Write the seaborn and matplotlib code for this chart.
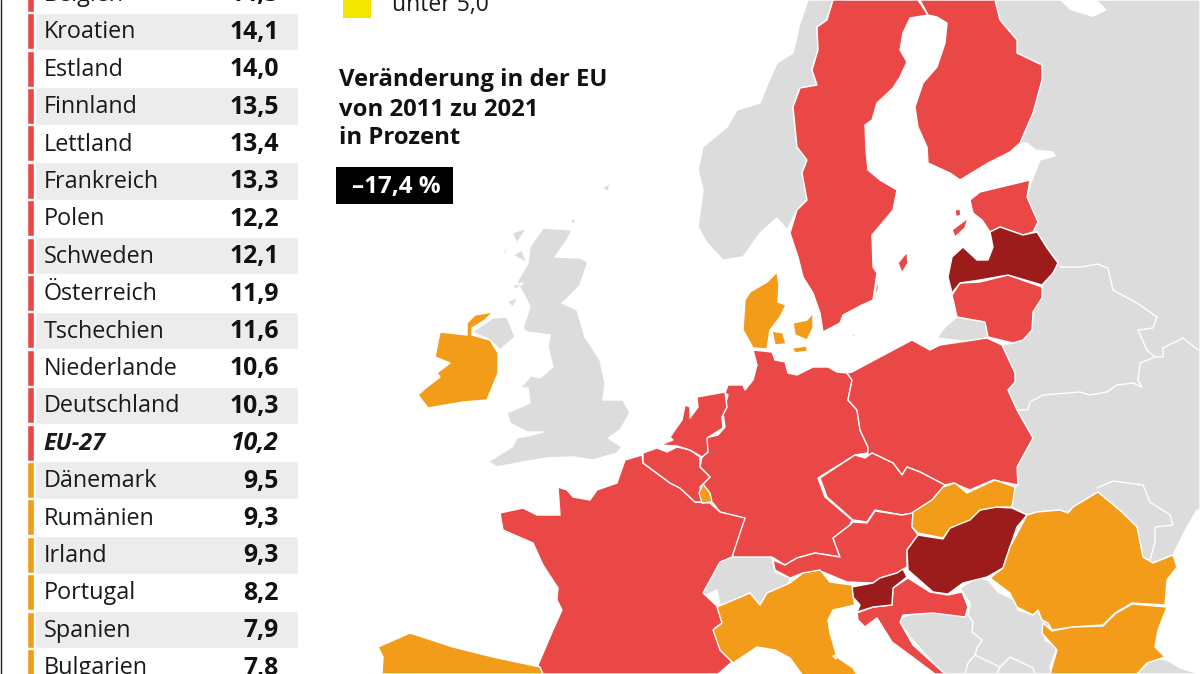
import numpy as np
import pandas as pd
import matplotlib
matplotlib.use("Agg")
import matplotlib.pyplot as plt
import seaborn as sns

# Tabelle
laender = ['Belgien', 'Kroatien', 'Estland', 'Finnland', 'Lettland', 'Frankreich', 'Polen',
           'Schweden', 'Österreich', 'Tschechien', 'Niederlande', 'Deutschland', 'EU-27',
           'Dänemark', 'Rumänien', 'Irland', 'Portugal', 'Spanien', 'Bulgarien']
werte = [14.3, 14.1, 14.0, 13.5, 13.4, 13.3, 12.2, 12.1, 11.9, 11.6, 10.6, 10.3, 10.2,
         9.5, 9.3, 9.3, 8.2, 7.9, 7.8]
gruppe = ['rot'] * 13 + ['orange'] * 6

ROT = '#E94846'
DUNKEL = '#9C1C1B'
ORANGE = '#F39C19'
GRAU = '#DCDCDC'
GELB = '#F3E600'

norwegen = [(808,0),(800,23),(793,53),(777,63),(768,83),(760,103),(737,110),(727,127),(703,147),(698,170),(703,190),(698,227),(707,243),(723,260),(743,257),(760,233),(777,218),(787,230),(797,210),(807,200),(802,173),(807,160),(797,147),(793,107),(800,88),(817,85),(812,70),(818,50),(817,27),(827,20),(833,0)]
osten = [(995,0),(1000,20),(1017,40),(1017,53),(1042,65),(1042,80),(1033,113),(1020,143),(1027,143),(1035,150),(1053,152),(1055,156),(1040,160),(1032,180),(1027,197),(1038,222),(1033,232),(1037,232),(1047,248),(1058,263),(1053,273),(1042,285),(1042,298),(1033,312),(1032,330),(1023,340),(1013,343),(1002,345),(1015,373),(1015,382),(1008,390),(1017,410),(1033,438),(1017,467),(1018,485),(1015,487),(1012,507),(1027,515),(1037,512),(1060,510),(1068,513),(1073,507),(1098,492),(1123,513),(1137,527),(1143,557),(1153,563),(1173,555),(1177,547),(1187,527),(1197,510),(1200,510),(1200,0)]
weisses_meer = [(1060,0),(1070,10),(1093,17),(1107,10),(1097,0)]
kaliningrad = [(937,338),(945,327),(957,317),(985,322),(988,337),(970,342)]
grossbritannien = [(543,228),(572,230),(567,240),(555,257),(580,258),(588,262),(580,285),(568,298),(562,303),(577,310),(585,337),(600,360),(605,383),(603,400),(623,400),(630,413),(620,430),(608,438),(622,447),(617,453),(593,460),(573,457),(547,458),(523,462),(497,467),(488,462),(512,447),(517,438),(532,435),(543,432),(527,432),(510,423),(507,413),(530,403),(528,388),(520,388),(530,377),(527,375),(540,378),(553,367),(548,347),(550,335),(527,332),(523,328),(530,307),(523,293),(517,282),(528,263),(530,247)]
nordirland = [(472,332),(493,318),(507,317),(515,337),(500,350),(490,340)]
lewis = [(512,233),(527,228),(517,243)]
skye = [(513,255),(522,250),(527,263)]
uist = [(502,260),(505,247),(507,250)]
mull = [(513,285),(523,283),(515,290)]
islay = [(507,302),(518,297),(513,307)]
orkney = [(570,222),(575,217),(575,225)]
shetland = [(602,187),(608,185),(612,178),(608,192)]
balkan = [(960,588),(977,578),(988,580),(998,592),(1015,600),(1018,610),(1033,615),(1038,610),(1042,620),(1052,623),(1043,630),(1045,640),(1057,648),(1050,667),(1052,674),(943,674),(910,637),(900,623),(902,617),(917,613),(947,612),(968,615),(970,603)]
tuerkei = [(1137,674),(1153,658),(1167,660),(1180,668),(1197,673),(1200,674)]
schweiz = [(703,588),(720,560),(733,557),(772,557),(775,572),(790,578),(788,585),(767,593),(760,605),(750,593),(730,603),(720,605),(717,590),(702,597)]

schweden = [(833,0),(918,0),(928,15),(910,18),(903,33),(900,50),(907,62),(900,77),(893,88),(877,103),(872,120),(865,125),(866,150),(868,170),(880,180),(897,190),(893,210),(883,222),(872,235),(873,267),(877,273),(873,300),(862,305),(843,315),(840,323),(823,332),(820,313),(813,293),(803,277),(798,257),(790,233),(797,210),(807,200),(802,173),(807,160),(797,147),(793,107),(800,88),(817,85),(812,70),(818,50),(817,27),(827,20)]
gotland = [(898,263),(907,252),(908,263),(902,273)]
oeland = [(880,275),(878,290),(875,300),(876,288)]
finnland = [(920,0),(995,0),(1000,20),(1017,40),(1017,53),(1042,65),(1042,80),(1033,113),(1020,143),(1010,152),(988,163),(960,180),(950,173),(928,163),(927,147),(918,127),(915,107),(923,83),(937,67),(945,43),(947,23),(937,17),(928,15)]
estland = [(970,200),(980,192),(1030,180),(1027,197),(1038,222),(1033,232),(1023,235),(1000,227),(990,232),(982,220),(973,213)]
hiiumaa = [(955,210),(960,209),(961,215),(956,217)]
saaremaa = [(952,230),(968,218),(965,228),(955,237)]
lettland = [(948,277),(952,257),(963,247),(977,260),(988,260),(993,247),(990,232),(1000,227),(1023,235),(1037,232),(1047,248),(1058,263),(1053,273),(1042,285),(1008,275),(980,280),(960,283),(952,293)]
litauen = [(952,295),(960,283),(980,282),(1008,275),(1042,287),(1042,298),(1033,312),(1032,330),(1023,340),(1013,343),(988,337),(985,322),(957,317)]
juetland = [(777,272),(779,285),(778,302),(786,305),(780,317),(770,330),(767,349),(753,348),(743,330),(745,300),(750,292),(767,282)]
fuenen = [(772,331),(783,333),(786,344),(775,345)]
seeland = [(793,323),(807,320),(813,313),(813,328),(807,340),(795,335)]
lolland = [(792,348),(806,346),(808,351),(795,353)]
bornholm = [(851,334),(855,335),(854,338)]
deutschland = [(753,350),(757,365),(753,380),(745,390),(743,385),(728,385),(725,393),(728,395),(723,413),(725,427),(718,435),(705,438),(708,452),(702,457),(700,467),(710,477),(700,487),(702,502),(713,503),(720,512),(743,518),(733,540),(733,557),(772,557),(785,565),(797,558),(815,553),(840,557),(833,538),(850,525),(852,520),(825,497),(818,478),(855,455),(868,453),(868,447),(860,430),(857,410),(848,400),(852,380),(847,373),(837,372),(828,367),(813,367),(797,375),(788,373),(785,362),(775,360),(772,352)]
polen = [(847,373),(852,372),(880,357),(912,340),(930,350),(940,345),(987,338),(1002,345),(1015,373),(1015,382),(1008,390),(1017,410),(1033,438),(1017,467),(1018,485),(993,480),(970,490),(953,483),(945,485),(920,472),(907,467),(902,475),(893,463),(872,453),(868,457),(868,447),(860,430),(857,410),(848,400),(852,380)]
tschechien = [(820,478),(855,455),(865,458),(872,453),(893,463),(902,475),(907,467),(920,472),(945,485),(932,500),(913,513),(902,515),(875,510),(867,522),(853,520),(827,497)]
oesterreich = [(853,522),(867,523),(875,511),(902,515),(913,513),(912,527),(918,535),(907,550),(907,567),(897,573),(880,578),(873,583),(847,582),(823,572),(803,573),(790,578),(775,570),(773,560),(785,565),(797,558),(815,553),(840,557),(833,538),(850,525)]
slowakei = [(913,512),(932,500),(943,487),(955,483),(967,493),(995,480),(1015,487),(1012,507),(997,507),(980,510),(970,520),(950,528),(943,538),(918,533),(912,527)]
ungarn = [(918,535),(943,539),(950,528),(963,522),(980,510),(995,507),(1012,508),(1027,515),(1017,527),(1010,547),(1003,568),(987,577),(963,583),(948,594),(933,592),(908,570),(907,550)]
slowenien = [(852,587),(873,583),(880,578),(897,573),(903,569),(907,577),(893,588),(892,605),(873,607),(857,612),(860,605),(853,597)]
kroatien = [(857,613),(873,607),(892,605),(893,588),(908,578),(930,592),(948,595),(962,592),(968,607),(965,617),(933,613),(903,615),(900,622),(913,645),(945,674),(935,674),(907,653),(892,642),(877,618),(870,623),(865,627),(858,620)]
rumaenien = [(990,578),(1003,568),(1010,547),(1027,515),(1037,512),(1060,510),(1068,513),(1073,507),(1098,492),(1123,513),(1137,527),(1143,557),(1153,563),(1173,555),(1177,567),(1167,580),(1165,605),(1132,603),(1115,613),(1103,625),(1073,627),(1052,630),(1048,623),(1042,620),(1038,610),(1033,615),(1017,607),(1010,593)]
bulgarien = [(1043,623),(1052,631),(1073,627),(1103,626),(1115,614),(1132,604),(1167,607),(1158,630),(1155,647),(1165,657),(1147,663),(1137,674),(1050,674),(1057,650),(1042,633)]
italien = [(717,607),(750,593),(760,605),(767,593),(790,583),(803,573),(820,570),(830,582),(852,585),(853,597),(855,605),(833,610),(828,620),(830,633),(837,657),(853,668),(860,680),(806,680),(790,658),(775,650),(757,647),(733,663),(720,650),(713,630),(722,623)]
elba = [(833,656),(836,655),(836,659)]
frankreich = [(558,487),(567,490),(573,497),(590,500),(597,490),(617,483),(625,460),(642,455),(643,463),(670,483),(680,488),(695,502),(710,503),(720,512),(745,518),(732,557),(720,562),(703,593),(718,607),(722,623),(715,628),(722,650),(735,657),(732,662),(718,674),(540,674),(538,665),(553,630),(562,610),(557,600),(558,588),(543,565),(533,543),(503,530),(500,513),(523,508),(537,515),(560,515)]
spanien = [(378,647),(410,633),(453,647),(493,657),(540,667),(543,674),(382,674),(383,657)]
belgien = [(643,453),(657,448),(667,452),(677,447),(690,450),(700,457),(700,467),(710,477),(700,487),(702,502),(695,502),(680,488),(670,483),(643,463)]
niederlande = [(670,437),(682,420),(685,405),(690,407),(690,418),(698,407),(697,397),(725,392),(727,407),(722,417),(723,428),(707,438),(708,452),(702,457),(690,450),(677,446),(660,445),(673,440)]
luxemburg = [(703,484),(710,493),(712,502),(702,503),(699,493)]
irland = [(467,323),(475,315),(493,312),(485,320),(472,328),(472,335),(490,340),(498,353),(498,373),(487,400),(463,402),(428,408),(418,395),(427,387),(440,377),(437,373),(450,363),(435,357),(440,332),(467,335)]

# weisse Grenzlinien innerhalb der grauen Flaechen
grenzen = [
    [(1060,267),(1082,267),(1097,264),(1108,268),(1113,290),(1137,303),(1157,317),(1153,328),(1138,330),(1147,350),(1155,357),(1140,363),(1138,380),(1142,387),(1133,383),(1117,385),(1107,392),(1090,395),(1080,392),(1043,395),(1030,402),(1028,410),(1018,410)],
    [(1155,357),(1163,357),(1163,348),(1183,338),(1198,350)],
    [(1097,488),(1113,481),(1143,485),(1150,502),(1170,515),(1173,525),(1155,527),(1155,542),(1150,560)],
    [(968,615),(973,622),(972,632),(982,640),(977,648),(975,655),(968,663),(965,674)],
    [(975,655),(1000,667),(1010,657),(1033,668),(1035,674)],
    [(1000,667),(997,674)],
]

karte_grau = [norwegen, osten, kaliningrad, grossbritannien, nordirland, lewis, skye, uist, mull, islay,
              orkney, shetland, balkan, tuerkei, schweiz]
karte_rot = [schweden, gotland, oeland, finnland, estland, hiiumaa, saaremaa, litauen, deutschland, polen,
             tschechien, oesterreich, kroatien, frankreich, belgien, niederlande]
karte_dunkel = [lettland, ungarn, slowenien]
karte_orange = [juetland, fuenen, seeland, lolland, bornholm, slowakei, rumaenien, bulgarien, italien,
                elba, spanien, luxemburg, irland]

sns.set_theme(style="white")
plt.rcParams['font.family'] = ['Open Sans', 'DejaVu Sans']

fig = plt.figure(figsize=(12, 6.74), dpi=100, facecolor='white')

# Karte
ax = fig.add_axes([0, 0, 1, 1])
for teile, farbe in [(karte_grau, GRAU), (karte_rot, ROT), (karte_dunkel, DUNKEL), (karte_orange, ORANGE)]:
    for teil in teile:
        xs, ys = zip(*teil)
        ax.fill(xs, ys, facecolor=farbe, edgecolor='white', linewidth=1.0, joinstyle='round')
xs, ys = zip(*weisses_meer)
ax.fill(xs, ys, facecolor='white', edgecolor='none')
for linie in grenzen:
    xs, ys = zip(*linie)
    ax.plot(xs, ys, color='white', lw=1.0)
ax.set_xlim(0, 1200)
ax.set_ylim(674, 0)
ax.axis('off')

# Legende und Textblock
ax.add_patch(plt.Rectangle((343, -12), 28, 30, facecolor=GELB, edgecolor='none'))
ax.text(392, 11, 'unter 5,0', fontsize=16.5, color='#1a1a1a', va='baseline')
for y, zeile in zip([86, 116, 144], ['Veränderung in der EU', 'von 2011 zu 2021', 'in Prozent']):
    ax.text(339, y, zeile, fontsize=17.2, fontweight='bold', color='#111111', va='baseline')
ax.add_patch(plt.Rectangle((336, 167), 117, 37, facecolor='black', edgecolor='none'))
ax.text(396, 186.5, '–17,4 %', fontsize=17.5, fontweight='bold', color='white', ha='center', va='center')
ax.plot([0.5, 0.5], [0, 674], color='#222222', lw=1)

# Tabelle, eine Zeile = 37,4 px
df = pd.DataFrame({'land': laender, 'wert': werte, 'gruppe': gruppe})
tab = fig.add_axes([0, (674 - 685.7) / 674, 1, 710.6 / 674])
tab.patch.set_alpha(0)
streifen = df.iloc[1::2]
sns.barplot(x=np.full(len(streifen), 263), y=streifen['land'], order=laender, color='#ECECEC',
            saturation=1, width=1, left=35, ax=tab)
sns.barplot(x=np.full(len(df), 7), y=df['land'], order=laender, hue=df['gruppe'],
            palette={'rot': ROT, 'orange': ORANGE}, saturation=1, dodge=False, width=1, gap=0.04,
            left=26.5, legend=False, ax=tab)
for i, (land, wert) in enumerate(zip(laender, werte)):
    stil = dict(fontweight='bold', fontstyle='italic') if land == 'EU-27' else {}
    tab.text(43.5, i - 0.05, land, fontsize=16.8, color='#1a1a1a', va='center_baseline', **stil)
    tab.text(279, i - 0.05, f'{wert:.1f}'.replace('.', ','), fontsize=17.8, color='#111111', ha='right',
             va='center_baseline', fontweight='bold', fontstyle='italic' if land == 'EU-27' else 'normal')
tab.set_xlim(0, 1200)
tab.set_ylim(18.5, -0.5)
tab.axis('off')

fig.savefig('out.png', dpi=100)
